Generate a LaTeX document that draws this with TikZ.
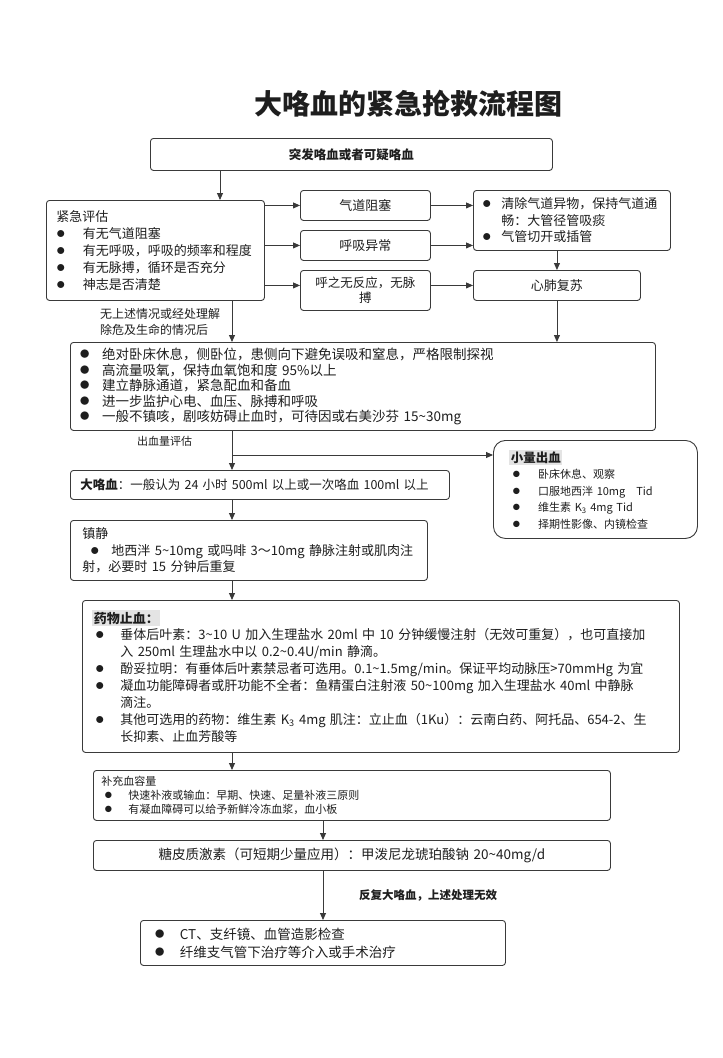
\documentclass[tikz,border=0pt]{standalone}
\usepackage{fontspec}
\setmainfont{Noto Sans CJK SC}
\usetikzlibrary{arrows.meta}
\definecolor{linec}{HTML}{3A3A3A}
\definecolor{txtc}{HTML}{1E1E1E}
\definecolor{hlgray}{HTML}{E4E4E4}
\newcommand{\fs}[2]{\fontsize{#1}{#2}\selectfont}
\newcommand{\bul}[1][1.45em]{\makebox[#1][l]{\scalebox{1.5}{$\bullet$}}}
\newcommand{\tl}{\textasciitilde}
\newcommand{\hl}[1]{{\setlength{\fboxsep}{1.5pt}\colorbox{hlgray}{\textbf{#1}}}}
\tikzset{
  box/.style={draw=linec, line width=0.9pt, rounded corners=3pt, anchor=north west,
    inner xsep=10pt, inner ysep=0pt, align=left, text=txtc},
  cbox/.style={box, align=center},
  note/.style={anchor=west, inner sep=0pt, align=left, text=txtc},
  arr/.style={draw=linec, line width=0.9pt, -{Triangle[length=7pt,width=6pt]}},
}
\begin{document}
\begin{tikzpicture}[x=1pt,y=-1pt]
  \useasboundingbox[fill=white] (0,0) rectangle (723,1058);
  \node[text=txtc, font=\bfseries\fs{28}{32}] (title) at (408,104) {大咯血的紧急抢救流程图};
  \node[cbox, text width=382pt, minimum height=32pt, font=\bfseries\fs{12.5}{15}] (start) at (150,138) {突发咯血或者可疑咯血};
  \node[box, inner xsep=10pt, text width=198pt, minimum height=100pt, font=\fs{13}{17}] (assess) at (46,200)
    {紧急评估\\ \bul[1.7em] 有无气道阻塞\\ \bul[1.7em] 有无呼吸，呼吸的频率和程度\\ \bul[1.7em] 有无脉搏，循环是否充分\\ \bul[1.7em] 神志是否清楚};
  \node[cbox, text width=110pt, minimum height=30pt, font=\fs{13}{16}] (obstr) at (300,190) {气道阻塞};
  \node[cbox, text width=110pt, minimum height=30pt, font=\fs{13}{16}] (breath) at (300,230) {呼吸异常};
  \node[cbox, text width=110pt, minimum height=40pt, font=\fs{12.5}{15}] (noresp) at (300,270) {呼之无反应，无脉\\搏};
  \node[box, inner xsep=9pt, text width=179pt, minimum height=60pt, font=\fs{13}{16.5}] (clear) at (473,190)
    {\bul 清除气道异物，保持气道通\\\hspace*{1.45em}畅：大管径管吸痰\\ \bul 气管切开或插管};
  \node[cbox, text width=147pt, minimum height=30pt, font=\fs{13}{16}] (cpr) at (473,270) {心肺复苏};
  \node[note, font=\fs{12}{15.5}] (note1) at (100,322) {无上述情况或经处理解\\除危及生命的情况后};
  \node[box, inner xsep=9pt, text width=567pt, minimum height=88pt, font=\fs{13.5}{15.5}] (care) at (70,342)
    {\bul[1.35em] 绝对卧床休息，侧卧位，患侧向下避免误吸和窒息，严格限制探视\\
     \bul[1.35em] 高流量吸氧，保持血氧饱和度 95\%以上\\
     \bul[1.35em] 建立静脉通道，紧急配血和备血\\
     \bul[1.35em] 进一步监护心电、血压、脉搏和呼吸\\
     \bul[1.35em] 一般不镇咳，剧咳妨碍止血时，可待因或右美沙芬 15\tl30mg};
  \node[note, font=\fs{11}{13}] (note2) at (137,441) {出血量评估};
  \coordinate (cx) at (220,0);
  \coordinate (ax) at (232,0);
  \coordinate (bx) at (323,0);
  \coordinate (branch) at (232,455);
  \node[box, rounded corners=12pt, inner xsep=16pt, text width=172pt, minimum height=98pt, font=\fs{11}{16.5}] (minor) at (493,440)
    {\hl{\fs{12.5}{16.5}小量出血}\\
     \hspace*{3pt}\bul[2em] 卧床休息、观察\\
     \hspace*{3pt}\bul[2em] 口服地西泮 10mg\quad Tid\\
     \hspace*{3pt}\bul[2em] 维生素 K\textsubscript{3} 4mg Tid\\
     \hspace*{3pt}\bul[2em] 择期性影像、内镜检查};
  \node[box, text width=359pt, minimum height=29pt, font=\fs{12.5}{16}] (major) at (70,470)
    {\mbox{\textbf{大咯血}：一般认为 24 小时 500ml 以上或一次咯血 100ml 以上}};
  \node[box, inner xsep=12pt, text width=333pt, minimum height=60pt, font=\fs{13}{16.5}] (sedate) at (70,520)
    {镇静\\\hspace*{0.6em}\bul[1.3em] 地西泮 5\tl10mg 或吗啡 3～10mg 静脉注射或肌肉注\\射，必要时 15 分钟后重复};
  \node[box, text width=577pt, minimum height=152pt, font=\fs{13}{16.9}] (drug) at (82,600)
    {\hl{药物止血：}\\
     \hspace*{3pt}\bul[25pt]垂体后叶素：3\tl10 U 加入生理盐水 20ml 中 10 分钟缓慢注射（无效可重复），也可直接加\\
     \hspace*{28pt}入 250ml 生理盐水中以 0.2\tl0.4U/min 静滴。\\
     \hspace*{3pt}\bul[25pt]酚妥拉明：有垂体后叶素禁忌者可选用。0.1\tl1.5mg/min。保证平均动脉压>70mmHg 为宜\\
     \hspace*{3pt}\bul[25pt]凝血功能障碍者或肝功能不全者：鱼精蛋白注射液 50\tl100mg 加入生理盐水 40ml 中静脉\\
     \hspace*{28pt}滴注。\\
     \hspace*{3pt}\bul[25pt]其他可选用的药物：维生素 K\textsubscript{3} 4mg\ 肌注：立止血（1Ku）：云南白药、阿托品、654-2、生\\
     \hspace*{28pt}长抑素、止血芳酸等};
  \node[box, inner xsep=8pt, text width=501pt, minimum height=50pt, font=\fs{11}{14}] (volume) at (93,770)
    {补充血容量\\
     \hspace*{3pt}\bul[24pt]快速补液或输血：早期、快速、足量补液三原则\\
     \hspace*{3pt}\bul[24pt]有凝血障碍可以给予新鲜冷冻血浆，血小板};
  \node[cbox, text width=497pt, minimum height=30pt, font=\fs{13.5}{16}] (steroid) at (93,840)
    {糖皮质激素（可短期少量应用）：甲泼尼龙琥珀酸钠 20\tl40mg/d};
  \node[note, anchor=center, font=\bfseries\fs{11.5}{14}] (note3) at (428,895) {反复大咯血，上述处理无效};
  \node[box, inner xsep=14pt, text width=337pt, minimum height=45pt, font=\fs{13.5}{18}] (final) at (140,920)
    {\bul[1.55em] CT、支纤镜、血管造影检查\\ \bul[1.55em] 纤维支气管下治疗等介入或手术治疗};
  \draw[arr] (start.south -| cx) -- (assess.north -| cx);
  \draw[arr] (assess.east |- obstr.west) -- (obstr.west);
  \draw[arr] (assess.east |- breath.west) -- (breath.west);
  \draw[arr] (assess.east |- cpr.west) -- (noresp.west |- cpr.west);
  \draw[arr] (obstr.east) -- (obstr.east -| clear.west);
  \draw[arr] (breath.east) -- (breath.east -| clear.west);
  \draw[arr] (noresp.east |- cpr.west) -- (cpr.west);
  \draw[arr] (clear.south -| cpr.north) -- (cpr.north);
  \draw[arr] (assess.south -| ax) -- (care.north -| ax);
  \draw[arr] (cpr.south) -- (care.north -| cpr.south);
  \draw[arr] (care.south -| ax) -- (major.north -| ax);
  \draw[arr] (branch) -- (branch -| minor.west);
  \draw[arr] (major.south -| ax) -- (sedate.north -| ax);
  \draw[arr] (sedate.south -| ax) -- (drug.north -| ax);
  \draw[arr] (drug.south -| ax) -- (volume.north -| ax);
  \draw[arr] (volume.south -| bx) -- (steroid.north -| bx);
  \draw[arr] (steroid.south -| bx) -- (final.north -| bx);
\end{tikzpicture}
\end{document}
